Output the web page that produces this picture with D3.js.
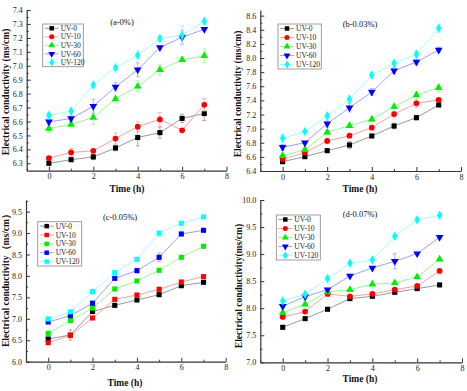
<!DOCTYPE html>
<html><head><meta charset="utf-8">
<script src="https://cdn.jsdelivr.net/npm/d3@7"></script>
<style>body{margin:0;background:#fff}svg{display:block}</style>
</head><body>
<svg id="c" width="467" height="391"></svg>
<script>
const times = [0,1,2,3,4,5,6,7];
const seriesNames = ["UV-0","UV-10","UV-30","UV-60","UV-120"];
const seriesColors = ["#000000","#ff0000","#00ee00","#0000ff","#00ffff"];
const lineColors = ["#999999","#ff9f9f","#99f599","#9f9fff","#a0ffff"];
const xTicks = [0,2,4,6,8];

// Panel a (0%)
const aVals = [
  [6.30,6.326,6.346,6.41,6.485,6.52,6.622,6.657],
  [6.337,6.378,6.39,6.478,6.563,6.615,6.537,6.72],
  [6.55,6.579,6.629,6.762,6.852,6.971,7.043,7.071],
  [6.598,6.621,6.71,6.848,6.971,7.131,7.205,7.262],
  [6.645,6.674,6.862,6.986,7.076,7.195,7.219,7.319]];
const aErr = [
  [0.01,0.012,0.02,0.02,0.06,0.04,0.03,0.05],
  [0.01,0.03,0.01,0.04,0.035,0.05,0.01,0.045],
  [0.03,0.01,0.05,0.01,0.04,0.04,0.01,0.05],
  [0.02,0.02,0.05,0.03,0.05,0.01,0.05,0.01],
  [0.02,0.03,0.02,0.035,0.035,0.02,0.07,0.02]];
const aYTicks = [6.3,6.4,6.5,6.6,6.7,6.8,6.9,7.0,7.1,7.2,7.3,7.4];

// Panel b (0.03%)
const bVals = [
  [6.532,6.603,6.688,6.768,6.896,7.037,7.155,7.335],
  [6.57,6.66,6.825,6.90,7.014,7.207,7.358,7.406],
  [6.615,6.70,6.948,7.042,7.132,7.311,7.476,7.58],
  [6.735,6.801,7.07,7.297,7.519,7.821,7.944,8.114],
  [6.863,6.958,7.183,7.415,7.76,7.925,8.052,8.42]];
const bErr = [
  [0.02,0.02,0.02,0.05,0.02,0.04,0.03,0.02],
  [0.02,0.02,0.04,0.03,0.02,0.04,0.06,0.02],
  [0.02,0.02,0.03,0.02,0.03,0.02,0.04,0.05],
  [0.04,0.02,0.05,0.06,0.05,0.04,0.04,0.04],
  [0.06,0.02,0.03,0.05,0.04,0.04,0.05,0.06]];
const bYTicks = [6.4,6.6,6.8,7.0,7.2,7.4,7.6,7.8,8.0,8.2,8.4,8.6];

// Panel c (0.05%)
const cVals = [
  [6.529,6.622,7.17,7.314,7.439,7.563,7.773,7.851],
  [6.443,6.614,7.019,7.454,7.555,7.687,7.858,7.983],
  [6.661,6.958,7.252,7.695,7.882,8.131,8.434,8.69],
  [6.925,7.073,7.363,7.944,8.123,8.434,8.978,9.064],
  [6.995,7.163,7.633,8.076,8.387,8.994,9.227,9.375]];
const cErr = [
  [0.03,0.12,0.04,0.03,0.03,0.04,0.05,0.03],
  [0.03,0.06,0.03,0.03,0.03,0.05,0.04,0.03],
  [0.03,0.03,0.04,0.03,0.03,0.04,0.04,0.03],
  [0.03,0.04,0.05,0.04,0.05,0.10,0.04,0.03],
  [0.03,0.04,0.08,0.04,0.04,0.07,0.04,0.03]];
const cYTicks = [6.0,6.5,7.0,7.5,8.0,8.5,9.0,9.5];

// Panel d (0.07%)
const dVals = [
  [7.647,7.807,7.98,8.177,8.22,8.294,8.362,8.43],
  [7.838,7.937,8.263,8.22,8.263,8.343,8.411,8.688],
  [7.918,8.072,8.30,8.343,8.442,8.466,8.577,8.904],
  [8.035,8.214,8.343,8.596,8.744,8.867,9.009,9.311],
  [8.134,8.257,8.547,8.83,8.892,9.329,9.637,9.717]];
const dErr = [
  [0.02,0.02,0.02,0.02,0.02,0.02,0.02,0.02],
  [0.02,0.02,0.03,0.02,0.02,0.02,0.02,0.02],
  [0.02,0.02,0.02,0.02,0.02,0.02,0.02,0.02],
  [0.02,0.06,0.02,0.02,0.02,0.14,0.02,0.02],
  [0.02,0.02,0.02,0.02,0.02,0.02,0.02,0.02]];
const dYTicks = [7.0,7.5,8.0,8.5,9.0,9.5,10.0];

const symDefault = [d3.symbolSquare, d3.symbolCircle, d3.symbolTriangle, "tridown", d3.symbolDiamond];
const symSquares = [d3.symbolSquare, d3.symbolSquare, d3.symbolSquare, d3.symbolSquare, d3.symbolSquare];

const panels = [
  {vals:aVals, err:aErr, yTicks:aYTicks, yDom:[6.247,7.4], x0:26.7, x1:226.5, y0:170.7, y1:10,
   title:"(a-0%)", tx:122, ty:25, ylabel:"Electrical conductivity (ms/cm)", ylx:1.5, yly:92, xlx:127, xly:192,
   leg:[42.7,24,40.6,42.7], syms:symDefault},
  {vals:bVals, err:bErr, yTicks:bYTicks, yDom:[6.4,8.68], x0:260.3, x1:461, y0:171, y1:10,
   title:"(b-0.03%)", tx:360, ty:27, ylabel:"Electrical conductivity (ms/cm)", ylx:234, yly:94, xlx:360, xly:192,
   leg:[278,24,43.3,45], syms:symDefault},
  {vals:cVals, err:cErr, yTicks:cYTicks, yDom:[6.0,9.77], x0:26, x1:225.7, y0:361.7, y1:200,
   title:"(c-0.05%)", tx:120, ty:220, ylabel:"Electrical conductivity（ms/cm）", ylx:1.5, yly:278, xlx:125, xly:386,
   leg:[37.7,221.7,44,44.3], syms:symSquares},
  {vals:dVals, err:dErr, yTicks:dYTicks, yDom:[7.0,10.0], x0:260.3, x1:462, y0:362.3, y1:200,
   title:"(d-0.07%)", tx:360, ty:217, ylabel:"Electrical conductivity(ms/cm)", ylx:235, yly:286, xlx:360, xly:382,
   leg:[276.3,215,44,45], syms:symDefault}
];

const svg = d3.select("#c");
const serif = "'Liberation Serif','Times New Roman',serif";
const fmt = d3.format(".1f");

function symPath(s, size){
  if (s === "tridown") return d3.symbol(d3.symbolTriangle, size)();
  return d3.symbol(s, size)();
}

panels.forEach(p => {
  const g = svg.append("g");
  const x = d3.scaleLinear().domain([-1,8]).range([p.x0,p.x1]);
  const y = d3.scaleLinear().domain(p.yDom).range([p.y0,p.y1]);

  // axes
  const xAx = d3.axisBottom(x).tickValues(xTicks).tickSizeInner(-4).tickSizeOuter(0).tickPadding(3);
  const gx = g.append("g").attr("transform",`translate(0,${p.y0})`).call(xAx);
  gx.select(".domain").attr("stroke","#333").attr("stroke-width",1.2);
  gx.selectAll(".tick line").attr("stroke","#333");
  gx.selectAll("text").attr("font-family",serif).attr("font-size",8).attr("fill","#222");
  const xMinor = d3.axisBottom(x).tickValues([-1,1,3,5,7]).tickSize(-2).tickFormat("");
  const gxm = g.append("g").attr("transform",`translate(0,${p.y0})`).call(xMinor);
  gxm.select(".domain").remove(); gxm.selectAll(".tick line").attr("stroke","#333");

  const yAx = d3.axisLeft(y).tickValues(p.yTicks).tickSizeInner(-4).tickSizeOuter(0).tickPadding(4).tickFormat(fmt);
  const gy = g.append("g").attr("transform",`translate(${p.x0},0)`).call(yAx);
  gy.select(".domain").attr("stroke","#333").attr("stroke-width",1.2);
  gy.selectAll(".tick line").attr("stroke","#333");
  gy.selectAll("text").attr("font-family",serif).attr("font-size",8).attr("fill","#222");
  const step = p.yTicks[1]-p.yTicks[0];
  const minors = p.yTicks.map(t => t + step/2).filter(t => t < p.yDom[1]);
  const yMinor = d3.axisLeft(y).tickValues(minors).tickSize(-2).tickFormat("");
  const gym = g.append("g").attr("transform",`translate(${p.x0},0)`).call(yMinor);
  gym.select(".domain").remove(); gym.selectAll(".tick line").attr("stroke","#333");

  // series
  const line = d3.line().x((d,i)=>x(times[i])).y(d=>y(d));
  p.vals.forEach((vals, si) => {
    g.append("path").attr("d", line(vals)).attr("fill","none")
      .attr("stroke", lineColors[si]).attr("stroke-width",1);
    vals.forEach((v,i) => {
      const e = p.err[si][i];
      const cx = x(times[i]);
      g.append("line").attr("x1",cx).attr("x2",cx).attr("y1",y(v-e)).attr("y2",y(v+e))
        .attr("stroke",lineColors[si]).attr("stroke-width",0.8);
      [v-e, v+e].forEach(ev => g.append("line").attr("x1",cx-2).attr("x2",cx+2)
        .attr("y1",y(ev)).attr("y2",y(ev)).attr("stroke",lineColors[si]).attr("stroke-width",0.8));
    });
    const s = p.syms[si];
    vals.forEach((v,i) => {
      g.append("path").attr("d", symPath(s, 26))
        .attr("transform", `translate(${x(times[i])},${y(v)})` + (s==="tridown" ? " rotate(180)" : ""))
        .attr("fill", seriesColors[si]);
    });
  });

  // title
  g.append("text").attr("x",p.tx).attr("y",p.ty).attr("text-anchor","middle")
    .attr("font-family",serif).attr("font-size",8.5).attr("fill","#111").text(p.title);

  // labels
  g.append("text").attr("transform",`translate(${p.ylx},${p.yly}) rotate(-90)`).attr("dy","0.75em")
    .attr("text-anchor","middle").attr("font-family",serif).attr("font-weight","bold")
    .attr("font-size",9.5).attr("fill","#111").text(p.ylabel);
  g.append("text").attr("x",p.xlx).attr("y",p.xly).attr("text-anchor","middle")
    .attr("font-family",serif).attr("font-weight","bold").attr("font-size",9.5).attr("fill","#111").text("Time (h)");

  // legend
  const [lx,ly,lw,lh] = p.leg;
  const lg = g.append("g");
  lg.append("rect").attr("x",lx).attr("y",ly).attr("width",lw).attr("height",lh)
    .attr("fill","#fff").attr("stroke","#888").attr("stroke-width",0.8);
  const rowH = lh/5;
  seriesNames.forEach((n,si) => {
    const cy = ly + rowH*(si+0.5);
    lg.append("line").attr("x1",lx+2).attr("x2",lx+16).attr("y1",cy).attr("y2",cy)
      .attr("stroke",lineColors[si]).attr("stroke-width",1);
    const s = p.syms[si];
    lg.append("path").attr("d", symPath(s, 20))
      .attr("transform", `translate(${lx+9},${cy})` + (s==="tridown" ? " rotate(180)" : ""))
      .attr("fill", seriesColors[si]);
    lg.append("text").attr("x",lx+18).attr("y",cy).attr("dy","0.35em")
      .attr("font-family",serif).attr("font-size",7.5).attr("fill","#222").text(n);
  });
});
</script>
</body></html>
